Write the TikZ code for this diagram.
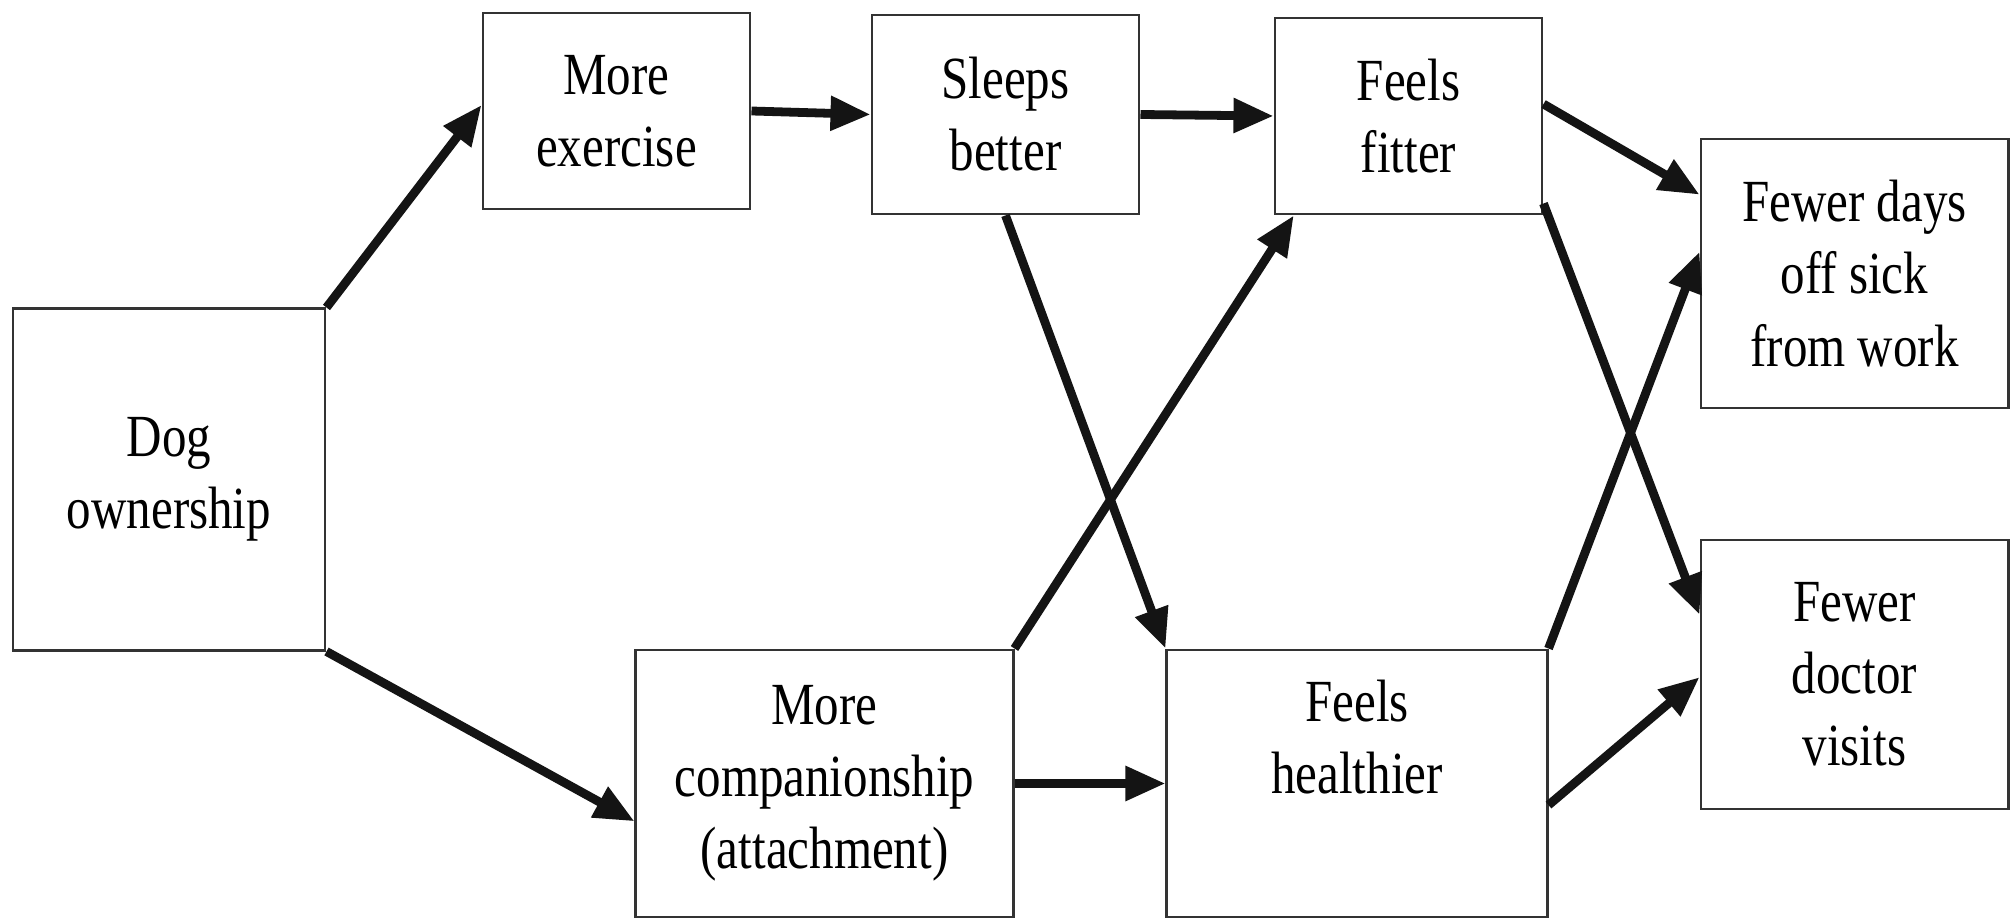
\documentclass[tikz,border=0pt]{standalone}
\usepackage{fontspec}
\setmainfont[FakeStretch=0.82]{Liberation Serif}
\usetikzlibrary{arrows.meta,calc}
\begin{document}
\begin{tikzpicture}[x=0.01cm,y=-0.01cm,
  box/.style={draw=black!80, line width=0.8pt, inner sep=0pt, align=center,
    font=\fontsize{17}{20.5}\selectfont},
  arr/.style={line width=2.5pt, draw=black!92, -{Triangle[length=0.40cm,width=0.33cm]}}]
\fill[white] (0,0) rectangle (2011,919);
\useasboundingbox (0,0) rectangle (2011,919);
\node[box, minimum width=3.12cm, minimum height=3.41cm] (dog) at (169,479.5) {Dog\\ownership};
\node[box, minimum width=2.67cm, minimum height=1.96cm] (ex) at (616.5,111) {More\\exercise};
\node[box, minimum width=2.67cm, minimum height=1.99cm] (sl) at (1005.5,114.5) {Sleeps\\better};
\node[box, minimum width=2.67cm, minimum height=1.96cm] (fit) at (1408.5,116) {Feels\\fitter};
\node[box, minimum width=3.07cm, minimum height=2.69cm] (days) at (1854.5,273.5) {Fewer days\\off sick\\from work};
\node[box, minimum width=3.07cm, minimum height=2.69cm] (doc) at (1854.5,674.5) {Fewer\\doctor\\visits};
\node[box, minimum width=3.77cm, minimum height=2.67cm] (comp) at (824.5,783.5) {More\\companionship\\(attachment)};
\node[box, minimum width=3.80cm, minimum height=2.67cm] (heal) at (1357,783.5) {Feels\\healthier\\\strut};
% connectors
\draw[arr] (dog.north east) -- ($(ex.north west)!0.47!(ex.south west)$);
\draw[arr] (dog.south east) -- ($(comp.north west)!0.64!(comp.south west)$);
\draw[arr] (ex.east) -- (sl.west);
\draw[arr] (sl.east) -- (fit.west);
\draw[arr] (sl.south) -- (heal.north west);
\draw[arr] (comp.north east) -- ($(fit.south west)!0.075!(fit.south east)$);
\draw[arr] (comp.east) -- (heal.west);
\draw[arr] ($(fit.north east)!0.44!(fit.south east)$) -- ($(days.north west)!0.21!(days.south west)$);
\draw[arr] ($(fit.north east)!0.94!(fit.south east)$) -- ($(doc.north west)!0.28!(doc.south west)$);
\draw[arr] (heal.north east) -- ($(days.north west)!0.42!(days.south west)$);
\draw[arr] ($(heal.north east)!0.58!(heal.south east)$) -- ($(doc.north west)!0.51!(doc.south west)$);
\end{tikzpicture}
\end{document}
